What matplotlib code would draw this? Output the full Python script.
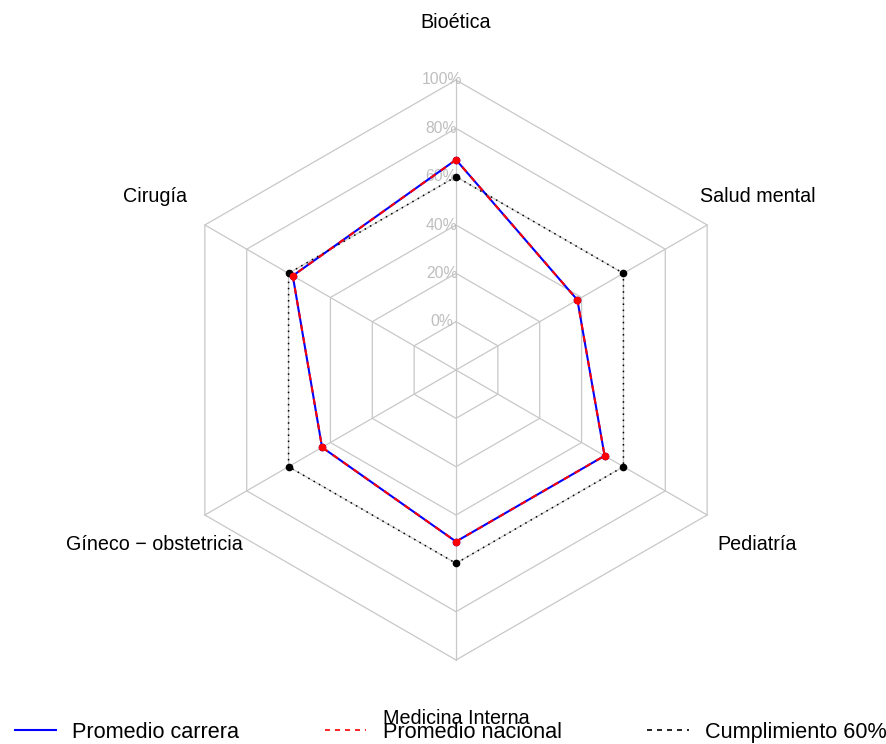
import numpy as np
import matplotlib
matplotlib.use("Agg")
import matplotlib.pyplot as plt

plt.rcParams['font.family'] = ['Liberation Sans', 'DejaVu Sans']

# axes, in fmsb order (counterclockwise from the top)
areas = ["Bioética", "Cirugía", "Gíneco \u2212 obstetricia", "Medicina Interna",
         "Pediatría", "Salud mental"]
promedio_carrera = [67, 58, 44, 51, 51, 38]
promedio_nacional = [67, 58, 44, 51, 51, 38]
cumplimiento = [60, 60, 60, 60, 60, 60]
axis_labels = ["0%", "20%", "40%", "60%", "80%", "100%"]

n = len(areas)
seg = len(axis_labels) - 1
theta = np.deg2rad(90 + 360 / n * np.arange(n))


def scale(vals):
    # fmsb style: centre hole of one segment
    v = np.asarray(vals) / 100.0
    return (1 + seg * v) / (seg + 1)


def xy(r):
    r = np.append(r, r[0])
    t = np.append(theta, theta[0])
    return r * np.cos(t), r * np.sin(t)


fig = plt.figure(figsize=(8.87, 7.44), dpi=100)
ax = fig.add_axes([0, 0, 1, 1])
ax.set_xlim(-456 / 290, (887 - 456) / 290)
ax.set_ylim(-(744 - 370) / 290, 370 / 290)
ax.axis('off')

grid = "#c8c8c8"
for k in range(seg + 1):
    gx, gy = xy(np.full(n, (k + 1) / (seg + 1)))
    ax.plot(gx, gy, color=grid, lw=0.9, zorder=1)
for t in theta:
    ax.plot([0, np.cos(t)], [0, np.sin(t)], color=grid, lw=0.9, zorder=1)

for k, lab in enumerate(axis_labels):
    ax.text(-0.05, (k + 1) / (seg + 1), lab, color="#bebebe", fontsize=11.3,
            ha='center', va='center', zorder=2)

for i, name in enumerate(areas):
    ax.text(1.2 * np.cos(theta[i]), 1.2 * np.sin(theta[i]), name,
            fontsize=14.2, ha='center', va='center')

x1, y1 = xy(scale(promedio_carrera))
x2, y2 = xy(scale(promedio_nacional))
x3, y3 = xy(scale(cumplimiento))

l1, = ax.plot(x1, y1, color="blue", lw=1.5, zorder=3)
ax.plot(x1[:-1], y1[:-1], 'o', color="blue", ms=4.5, zorder=3)
l2, = ax.plot(x2, y2, color="red", lw=1.5, ls=(0, (3, 3)), zorder=4)
ax.plot(x2[:-1], y2[:-1], 'o', color="red", ms=4.5, zorder=4)
l3, = ax.plot(x3, y3, color="black", lw=1.1, ls=(0, (1, 3)), zorder=3)
ax.plot(x3[:-1], y3[:-1], 'o', color="black", ms=4.5, zorder=3)

h2 = plt.Line2D([], [], color="red", lw=1.2, ls=(0, (3, 3)))
h3 = plt.Line2D([], [], color="black", lw=1.2, ls=(0, (3, 3)))
fig.legend([l1, h2, h3], ["Promedio carrera", "Promedio nacional", "Cumplimiento 60%"],
           loc='lower left', bbox_to_anchor=(15 / 887, 0.002), ncol=3, frameon=False,
           fontsize=15.6, handlelength=1.9, handletextpad=0.75, columnspacing=3.96,
           borderpad=0, borderaxespad=0)

fig.savefig("out.png", dpi=100)
